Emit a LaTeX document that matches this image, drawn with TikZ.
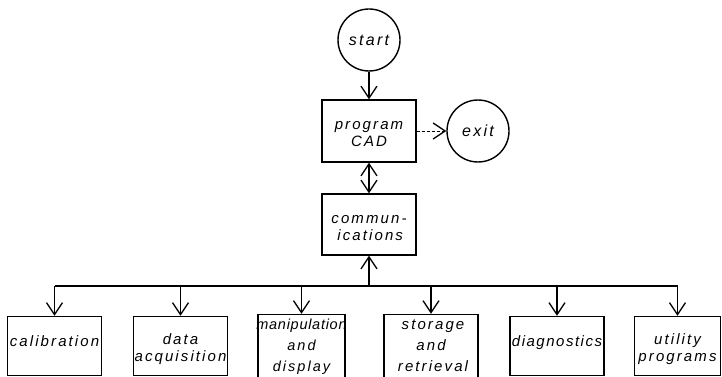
\documentclass[tikz,border=0pt]{standalone}
\usepackage{fontspec}
\setmainfont{Liberation Sans}
\usetikzlibrary{arrows.meta}
\newfontfamily\lettering[LetterSpace=14]{Liberation Sans}
\newfontfamily\narrowlettering[LetterSpace=5]{Liberation Sans}
\newfontfamily\midlettering[LetterSpace=10]{Liberation Sans}
% lower a box without changing its reported height/depth
\newcommand{\shiftdown}[2]{\raisebox{-#1}[\height][\depth]{#2}}
% centred lines whose width does not enlarge the surrounding box
\newcommand{\lines}[1]{\makebox[0pt]{\begin{tabular}{@{}c@{}}#1\end{tabular}}}
\tikzset{
  x=1pt, y=-1pt,
  every node/.style={font=\lettering\itshape\fontsize{15}{17}\selectfont},
  line/.style={line width=1.4pt},
  vtip/.tip={Straight Barb[length=12pt,width=16pt,line width=1.3pt]},
  arr/.style={line, -vtip},
  darr/.style={line, vtip-vtip},
  term/.style={draw, line width=1.4pt, circle, minimum size=62pt, inner sep=0pt,
               font=\lettering\itshape\fontsize{16}{17}\selectfont},
  topbox/.style={draw, line width=1.4pt, minimum width=94pt, minimum height=62pt, inner sep=0pt},
  leafbox/.style={draw, line width=1.4pt, minimum width=94pt, minimum height=59pt, inner sep=0pt},
  tall/.style={font=\lettering\itshape\fontsize{15}{21}\selectfont},
}
\begin{document}
\begin{tikzpicture}
\useasboundingbox (0,0) rectangle (722,377);

% upper chain
\node[term] (start) at (369,40) {start};
\node[topbox] (prog) at (369,131) {\shiftdown{4pt}{\lines{program\\CAD}}};
\node[term] (exit) at (478,131) {exit};
\node[topbox, minimum height=61pt] (comm) at (369,224.5)
  {\shiftdown{4pt}{\makebox[0pt]{\begin{tabular}{@{}l@{}}commun-\\\hspace*{6pt}ications\end{tabular}}}};

\draw[arr] (start) -- (prog);
\draw[arr, densely dashed, line width=0.9pt] (prog) -- (exit);
\draw[darr] (prog) -- (comm);

% application modules
\node[leafbox] (cal)  at (54.5,346)  {\shiftdown{-3pt}{\lines{calibration}}};
\node[leafbox] (daq)  at (180.5,346) {\shiftdown{4pt}{\lines{data\\acquisition}}};
\node[leafbox, minimum width=87pt, font=\narrowlettering\itshape\fontsize{14.5}{21}\selectfont] (man) at (301.5,346)
  {\lines{manipulation\\\lettering and\\\lettering display}};
\node[leafbox, tall] (sto) at (431,346) {\lines{\hspace*{4pt}storage\\and\\\hspace*{4pt}retrieval}};
\node[leafbox, font=\midlettering\itshape\fontsize{15}{17}\selectfont] (diag) at (557,346) {\shiftdown{-3pt}{\lines{diagnostics}}};
\node[leafbox, minimum width=86pt] (util) at (677.5,346) {\shiftdown{4pt}{\lines{utility\\programs}}};

% distribution bus
\coordinate (bus) at (369,286);
\draw[arr] (bus) -- (comm);
\draw[line] (bus -| cal) -- (bus -| util);
\foreach \m in {cal,daq,man,sto,diag,util}
  \draw[arr] (bus -| \m) -- (\m);
\end{tikzpicture}
\end{document}
